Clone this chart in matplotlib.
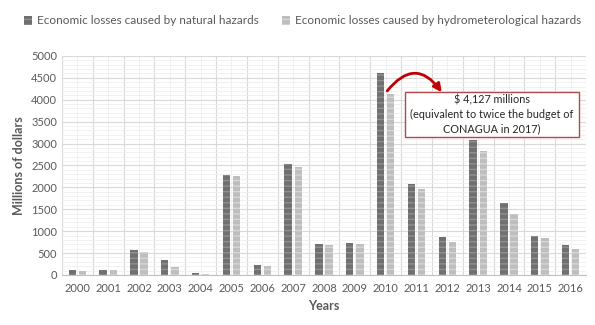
import numpy as np
import matplotlib.pyplot as plt
from matplotlib.patches import Rectangle
from matplotlib.ticker import MultipleLocator

plt.rcParams['font.family'] = ['Lato', 'DejaVu Sans']

years = ["2000", "2001", "2002", "2003", "2004", "2005", "2006", "2007", "2008",
         "2009", "2010", "2011", "2012", "2013", "2014", "2015", "2016"]
natural = [114, 121, 561, 349, 38, 2276, 228, 2527, 713, 728, 4620, 2071, 857, 3080, 1639, 888, 683]
hydro = [99, 121, 523, 175, 23, 2261, 212, 2466, 690, 698, 4127, 1965, 759, 2822, 1396, 850, 592]

label_nat = "Economic losses caused by natural hazards"
label_hyd = "Economic losses caused by hydrometerological hazards"
note = "$ 4,127 millions\n(equivalent to twice the budget of\nCONAGUA in 2017)"

txt = "#595959"
x = np.arange(len(years))
w = 0.24

fig = plt.figure(figsize=(5.95, 3.25), dpi=100)
ax = fig.add_axes([0.104, 0.154, 0.881, 0.674])

b1 = ax.bar(x - 0.165, natural, w, color="#707070", edgecolor="#909090", linewidth=0,
            hatch="---", label=label_nat, zorder=3)
b2 = ax.bar(x + 0.165, hydro, w, color="#bebebe", edgecolor="#d6d6d6", linewidth=0,
            hatch="---", label=label_hyd, zorder=3)

ax.set_xlim(-0.5, len(years) - 0.5)
ax.set_ylim(0, 5000)
ax.set_xticks(x)
ax.set_xticklabels(years)
ax.yaxis.set_major_locator(MultipleLocator(500))
ax.yaxis.set_minor_locator(MultipleLocator(100))
ax.set_xticks(np.arange(-0.5, len(years), 1), minor=True)

# grid lines like the spreadsheet chart
ax.grid(which="major", axis="y", color="#d9d9d9", linewidth=0.8, zorder=0)
ax.grid(which="minor", axis="y", color="#efefef", linewidth=0.6, zorder=0)
ax.grid(which="minor", axis="x", color="#d9d9d9", linewidth=0.8, zorder=0)
for xi in x:
    ax.axvline(xi, color="#efefef", linewidth=0.6, zorder=0)

for s in ["top", "right", "left"]:
    ax.spines[s].set_visible(False)
ax.spines["bottom"].set_color("#bfbfbf")
ax.tick_params(which="both", length=0, colors=txt, labelsize=8)
ax.tick_params(axis="x", pad=6)

ax.set_xlabel("Years", fontsize=9, fontweight="bold", color=txt, labelpad=4)
ax.set_ylabel("Millions of dollars", fontsize=9, fontweight="bold", color=txt, labelpad=4)

fig.legend(handles=[b1, b2], loc="upper left", bbox_to_anchor=(0.022, 0.985), ncol=2,
           frameon=False, fontsize=8.5, labelcolor=txt, handlelength=0.7,
           handleheight=0.7, handletextpad=0.4, columnspacing=2.0)

# note box
ax.add_patch(Rectangle((10.63, 3150), 5.64, 1030, facecolor="white",
                       edgecolor="#b0494a", linewidth=1, zorder=6))
ax.text(13.45, 3665, note, ha="center", va="center", fontsize=7.8, color="#262626",
        linespacing=1.35, zorder=7)

# curved red arrow from the 2010 bar to the note
ax.annotate("", xy=(11.82, 4170), xytext=(10.05, 4200),
            arrowprops=dict(arrowstyle="-|>", color="#c00000", lw=2,
                            mutation_scale=12, shrinkA=0, shrinkB=0,
                            connectionstyle="arc3,rad=-0.65"), zorder=8)

fig.savefig("out.png", dpi=100)
